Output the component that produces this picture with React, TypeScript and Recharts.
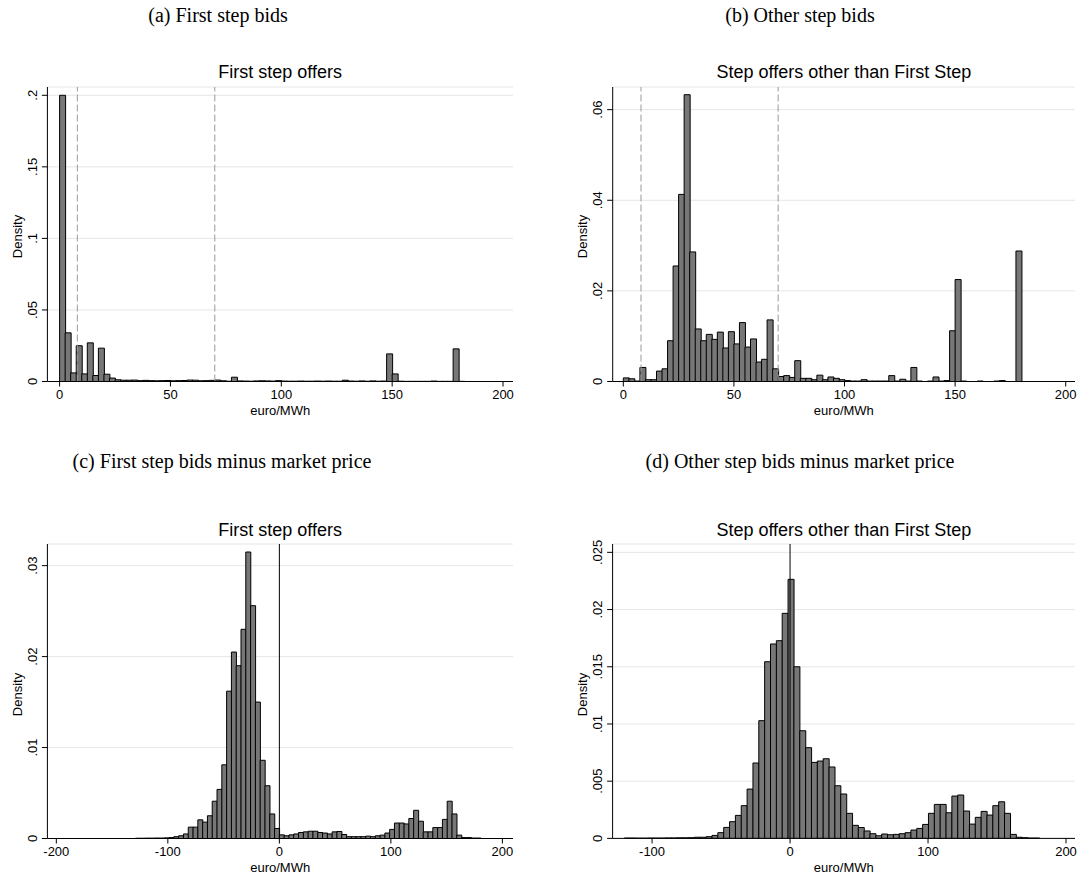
import React from "react";
import { BarChart, Bar, XAxis, YAxis, CartesianGrid, ReferenceLine } from "recharts";

const SANS = '"Liberation Sans", Arial, Helvetica, sans-serif';
const SERIF = '"Liberation Serif", "Times New Roman", serif';

// (a) first step offers: bins of 2.5 euro/MWh starting at 0
const binStartA = 0;
const binWidthA = 2.5;
const densityA = [
  0.2, 0.034, 0.006, 0.025, 0.0053, 0.027, 0.0042, 0.0233, 0.0051, 0.0024,
  0.0012, 0.0009, 0.0009, 0.001, 0.0006, 0.0008, 0.0006, 0.0005, 0.0006, 0.0007,
  0.0005, 0.0006, 0.0007, 0.001, 0.0009, 0.0005, 0.0006, 0.0008, 0.001, 0.0005,
  0.0002, 0.003, 0.0004, 0.0003, 0.0002, 0.0004, 0.0005, 0.0004, 0.0003, 0.0006,
  0.0003, 0.0002, 0.0002, 0.0003, 0.0002, 0.0002, 0.0003, 0.0002, 0.0003, 0.0002,
  0.0002, 0.0009, 0.0003, 0.0002, 0.0004, 0.0002, 0.0004, 0.0002, 0.0003, 0.0193,
  0.0053, 0.0002, 0.0001, 0.0001, 0.0001, 0.0001, 0.0001, 0.0003, 0.0001, 0.0001,
  0.0001, 0.0228, 0.0001,
];

// (b) other step offers: same bins
const binStartB = 0;
const binWidthB = 2.5;
const densityB = [
  0.0008, 0.0006, 0.0001, 0.0031, 0.0004, 0.0004, 0.0023, 0.0028, 0.009, 0.0255,
  0.0413, 0.0633, 0.0286, 0.0116, 0.009, 0.0104, 0.0093, 0.0109, 0.0074, 0.011,
  0.0083, 0.013, 0.0076, 0.0094, 0.0043, 0.0049, 0.0136, 0.0028, 0.0011, 0.0013,
  0.0009, 0.0046, 0.0007, 0.0007, 0.0004, 0.0014, 0.0004, 0.001, 0.0007, 0.0004,
  0.0002, 0.0001, 0.0001, 0.0004, 0.0001, 0.0001, 0.0001, 0.0001, 0.0013, 0.0001,
  0.0005, 0.0001, 0.0031, 0.0001, 0, 0.0001, 0.001, 0.0001, 0.0002, 0.0112,
  0.0225, 0.0001, 0, 0, 0.0001, 0, 0, 0.0001, 0.0002, 0,
  0, 0.0288,
];

// (c) first step bids minus market price: bins of 4.3 starting at -129
const binStartC = -129;
const binWidthC = 4.3;
const densityC = [
  0.00003, 0.00003, 0.00004, 0.00004, 0.00005, 0.00005, 0.00007, 0.0001, 0.0002, 0.0003,
  0.0005, 0.00125, 0.00125, 0.00205, 0.0018, 0.0025, 0.0041, 0.0054, 0.0081, 0.0162,
  0.0205, 0.019, 0.023, 0.0315, 0.0256, 0.015, 0.0086, 0.0058, 0.0027, 0.0011,
  0.0004, 0.0003, 0.0004, 0.0005, 0.00066, 0.00073, 0.0008, 0.0008, 0.00066, 0.0006,
  0.0005, 0.00073, 0.00077, 0.00044, 0.0002, 0.0002, 0.0002, 0.0002, 0.00026, 0.0002,
  0.0003, 0.00037, 0.0006, 0.001, 0.0017, 0.0017, 0.0016, 0.0022, 0.0031, 0.0019,
  0.00073, 0.00073, 0.0012, 0.0012, 0.0021, 0.0041, 0.0027, 0.00037, 0.0001, 0.0001,
  0.00005, 0.00005,
];

// (d) other step bids minus market price: bins of 4.24 starting at -120.17
const binStartD = -120.17;
const binWidthD = 4.24;
const densityD = [
  0.00003, 0.00003, 0.00002, 0.00002, 0.00003, 0.00003, 0.00003, 0.00004, 0.00004, 0.00005,
  0.00005, 0.00006, 0.0001, 0.0001, 0.00015, 0.00026, 0.0005, 0.00096, 0.00146, 0.00201,
  0.00286, 0.00431, 0.00659, 0.01029, 0.01544, 0.01699, 0.01728, 0.01967, 0.02264, 0.015,
  0.00941, 0.00793, 0.00664, 0.00676, 0.00696, 0.00624, 0.0046, 0.00388, 0.00219, 0.00114,
  0.00095, 0.00065, 0.00041, 0.00023, 0.00038, 0.00032, 0.00035, 0.00041, 0.0005, 0.00073,
  0.00087, 0.00122, 0.00219, 0.00297, 0.00297, 0.00224, 0.0037, 0.00379, 0.00239, 0.00125,
  0.00184, 0.00236, 0.00204, 0.00286, 0.0032, 0.00219, 0.00035, 0.0001, 0.00006, 0.00003,
  0.00003,
];

const xTicksTop = [0, 50, 100, 150, 200];
const xTicksC = [-200, -100, 0, 100, 200];
const xTicksD = [-100, 0, 100, 200];
const yTicksA = [0, 0.05, 0.1, 0.15, 0.2];
const yTicksB = [0, 0.02, 0.04, 0.06];
const yTicksC = [0, 0.01, 0.02, 0.03];
const yTicksD = [0, 0.005, 0.01, 0.015, 0.02, 0.025];

const cutoffLines = [8, 70];
const zeroLine = [0];

const toBins = (start: number, width: number, dens: number[]) =>
  dens.map((y, i) => ({ x: start + width * (i + 0.5), y }));

const fmtDensity = (v: number) => (v === 0 ? "0" : String(v).replace(/^0/, ""));

function YTick(props: any) {
  const { x, y, payload } = props;
  return (
    <text
      x={x}
      y={y}
      transform={`rotate(-90 ${x} ${y})`}
      textAnchor="middle"
      fontSize={13}
      fontFamily={SANS}
      fill="#000"
    >
      {fmtDensity(payload.value)}
    </text>
  );
}

type Plot = { l: number; r: number; t: number; b: number };

type PanelProps = {
  plot: Plot;
  boxLeft: number;
  boxTop: number;
  data: { x: number; y: number }[];
  xDomain: [number, number];
  xTicks: number[];
  yDomain: [number, number];
  yTicks: number[];
  dashed?: number[];
  solid?: number[];
  title: string;
};

function Panel({ plot, boxLeft, boxTop, data, xDomain, xTicks, yDomain, yTicks, dashed = [], solid = [], title }: PanelProps) {
  const yAxisW = plot.l - boxLeft;
  const mTop = plot.t - boxTop;
  const mRight = 6;
  const xAxisH = 38;
  const width = plot.r - boxLeft + mRight;
  const height = plot.b - boxTop + xAxisH;
  const cx = (plot.l + plot.r) / 2;
  const cy = (plot.t + plot.b) / 2;
  return (
    <>
      <div style={{ position: "absolute", left: boxLeft, top: boxTop }}>
        <BarChart
          width={width}
          height={height}
          data={data}
          margin={{ top: mTop, right: mRight, bottom: 0, left: 0 }}
          barCategoryGap={0}
          barGap={0}
        >
          <CartesianGrid vertical={false} stroke="#e6e6e6" />
          <XAxis
            type="number"
            dataKey="x"
            domain={xDomain}
            ticks={xTicks}
            allowDataOverflow
            interval={0}
            height={xAxisH}
            stroke="#000"
            tickSize={5}
            tickMargin={3}
            tick={{ fontSize: 13, fill: "#000", fontFamily: SANS }}
          />
          <YAxis
            type="number"
            domain={yDomain}
            ticks={yTicks}
            allowDataOverflow
            interval={0}
            width={yAxisW}
            stroke="#000"
            tickSize={5.5}
            tickMargin={5}
            tick={<YTick />}
          />
          <Bar dataKey="y" fill="#777777" stroke="#000" strokeWidth={1} isAnimationActive={false} />
          {dashed.map((v) => (
            <ReferenceLine key={`d${v}`} x={v} stroke="#9a9a9a" strokeDasharray="7 3" />
          ))}
          {solid.map((v) => (
            <ReferenceLine key={`s${v}`} x={v} stroke="#000" strokeWidth={1} />
          ))}
        </BarChart>
      </div>
      <div style={textStyle(cx, plot.t - 14.5, 18, SANS, 500)}>{title}</div>
      <div style={textStyle(cx, plot.b + 29, 13, SANS, 200)}>euro/MWh</div>
      <div style={{ ...textStyle(plot.l - 30.5, cy + 3, 13, SANS, 120), transform: "rotate(-90deg)" }}>Density</div>
    </>
  );
}

function textStyle(cx: number, cy: number, fs: number, family: string, w: number): React.CSSProperties {
  return {
    position: "absolute",
    left: cx - w / 2,
    top: cy - fs / 2,
    width: w,
    height: fs,
    lineHeight: `${fs}px`,
    fontSize: fs,
    fontFamily: family,
    textAlign: "center",
    whiteSpace: "nowrap",
    color: "#000",
  };
}

const plotA: Plot = { l: 47.4, r: 513, t: 86.5, b: 381 };
const plotB: Plot = { l: 612.7, r: 1075, t: 86.5, b: 381 };
const plotC: Plot = { l: 47.4, r: 513, t: 544, b: 838.5 };
const plotD: Plot = { l: 612.6, r: 1075, t: 544, b: 838.4 };

export default function App() {
  return (
    <div style={{ position: "relative", width: 1081, height: 878, background: "#fff", overflow: "hidden" }}>
      <style>{"body{margin:0;background:#fff}"}</style>
      <div style={textStyle(218, 15, 20, SERIF, 500)}>(a) First step bids</div>
      <div style={textStyle(800, 15, 20, SERIF, 500)}>(b) Other step bids</div>
      <div style={textStyle(222, 461, 20, SERIF, 500)}>(c) First step bids minus market price</div>
      <div style={textStyle(800, 461, 20, SERIF, 500)}>(d) Other step bids minus market price</div>

      <Panel
        plot={plotA}
        boxLeft={0}
        boxTop={76.5}
        data={toBins(binStartA, binWidthA, densityA)}
        xDomain={[-5.5, 204.5]}
        xTicks={xTicksTop}
        yDomain={[0, 0.2058]}
        yTicks={yTicksA}
        dashed={cutoffLines}
        title="First step offers"
      />
      <Panel
        plot={plotB}
        boxLeft={565}
        boxTop={76.5}
        data={toBins(binStartB, binWidthB, densityB)}
        xDomain={[-4.8, 204.2]}
        xTicks={xTicksTop}
        yDomain={[0, 0.065]}
        yTicks={yTicksB}
        dashed={cutoffLines}
        title="Step offers other than First Step"
      />
      <Panel
        plot={plotC}
        boxLeft={0}
        boxTop={534}
        data={toBins(binStartC, binWidthC, densityC)}
        xDomain={[-208, 209.5]}
        xTicks={xTicksC}
        yDomain={[0, 0.03238]}
        yTicks={yTicksC}
        solid={zeroLine}
        title="First step offers"
      />
      <Panel
        plot={plotD}
        boxLeft={565}
        boxTop={534}
        data={toBins(binStartD, binWidthD, densityD)}
        xDomain={[-128.6, 206.5]}
        xTicks={xTicksD}
        yDomain={[0, 0.02573]}
        yTicks={yTicksD}
        solid={zeroLine}
        title="Step offers other than First Step"
      />
    </div>
  );
}
